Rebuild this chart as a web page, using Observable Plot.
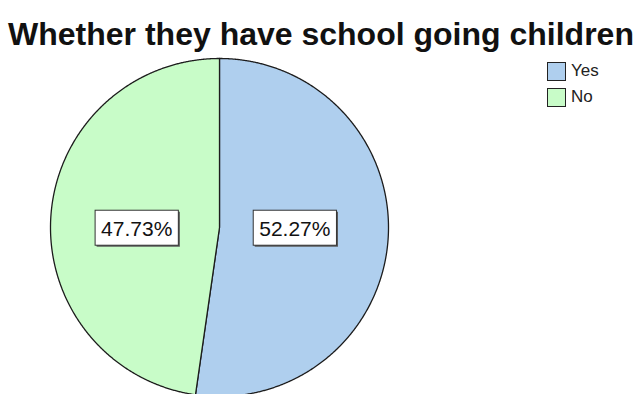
<!DOCTYPE html>
<html><head><meta charset="utf-8">
<script src="https://cdn.jsdelivr.net/npm/d3@7"></script>
<script src="https://cdn.jsdelivr.net/npm/@observablehq/plot@0.6"></script>
<style>
body{margin:0;background:#fff;font-family:"Liberation Sans",Arial,sans-serif;}
#wrap{position:relative;width:640px;height:394px;overflow:hidden;}
#title{position:absolute;left:0;top:16px;width:642px;text-align:center;font-weight:bold;font-size:32px;color:#111;white-space:nowrap;}
#legend{position:absolute;left:547px;top:58px;font-size:17px;color:#222;}
.li{display:flex;align-items:center;height:26px;}
.sw{width:17px;height:17px;border:1px solid #222;margin-right:5px;}
</style></head>
<body><div id="wrap"><div id="chart"></div><div id="title">Whether they have school going children</div><div id="legend"></div></div>
<script>
const categories = ["Yes", "No"];
const percents = [52.27, 47.73];
const labels = ["52.27%", "47.73%"];
const colors = ["#afcfee", "#c8fcc8"];
const title = "Whether they have school going children";

const arcs = d3.pie().sort(null).value(d => d)(percents);
const pts = [];
arcs.forEach((a, i) => {
  const c = categories[i];
  pts.push({c, x: 0, y: 0});
  const n = Math.max(2, Math.ceil((a.endAngle - a.startAngle) / 0.005));
  for (let k = 0; k <= n; k++) {
    const t = a.startAngle + (a.endAngle - a.startAngle) * k / n;
    pts.push({c, x: Math.sin(t), y: Math.cos(t)});
  }
  pts.push({c, x: 0, y: 0});
});
const lab = arcs.map((a, i) => {
  const m = (a.startAngle + a.endAngle) / 2;
  return {c: categories[i], t: labels[i], x: Math.sin(m) * 0.469 - 0.022, y: 0};
});

const plot = Plot.plot({
  width: 640, height: 394,
  x: {domain: [-1, 1], range: [50, 388], axis: null},
  y: {domain: [-1, 1], range: [396, 58], axis: null},
  color: {domain: categories, range: colors},
  style: {fontFamily: "Liberation Sans, Arial, sans-serif", background: "#fff"},
  marks: [
    Plot.line(pts, {x: "x", y: "y", z: "c", fill: "c", stroke: "#1c1c1c", strokeWidth: 1.3, curve: "linear"}),
    Plot.text(lab, {x: "x", y: "y", text: "t", fontSize: 21, fill: "#111", className: "plabel", dy: 2})
  ]
});
document.getElementById("chart").appendChild(plot);

// boxes behind labels
plot.querySelectorAll(".plabel text").forEach(t => {
  const b = t.getBBox();
  const g = t.parentNode;
  const tr = t.getAttribute("transform") || "";
  const mk = (dx, dy, fill, stroke) => {
    const r = document.createElementNS("http://www.w3.org/2000/svg", "rect");
    r.setAttribute("x", b.x - 6 + dx); r.setAttribute("y", b.y - 7 + dy);
    r.setAttribute("width", b.width + 12); r.setAttribute("height", b.height + 12);
    r.setAttribute("fill", fill);
    if (stroke) { r.setAttribute("stroke", stroke); r.setAttribute("stroke-width", 1); }
    if (tr) r.setAttribute("transform", tr);
    g.insertBefore(r, t);
  };
  mk(1.5, 1.5, "#555", null);
  mk(0, 0, "#fff", "#333");
});

const leg = document.getElementById("legend");
categories.forEach((c, i) => {
  const d = document.createElement("div"); d.className = "li";
  const s = document.createElement("div"); s.className = "sw"; s.style.background = colors[i];
  d.appendChild(s); d.appendChild(document.createTextNode(c)); leg.appendChild(d);
});
</script></body></html>
